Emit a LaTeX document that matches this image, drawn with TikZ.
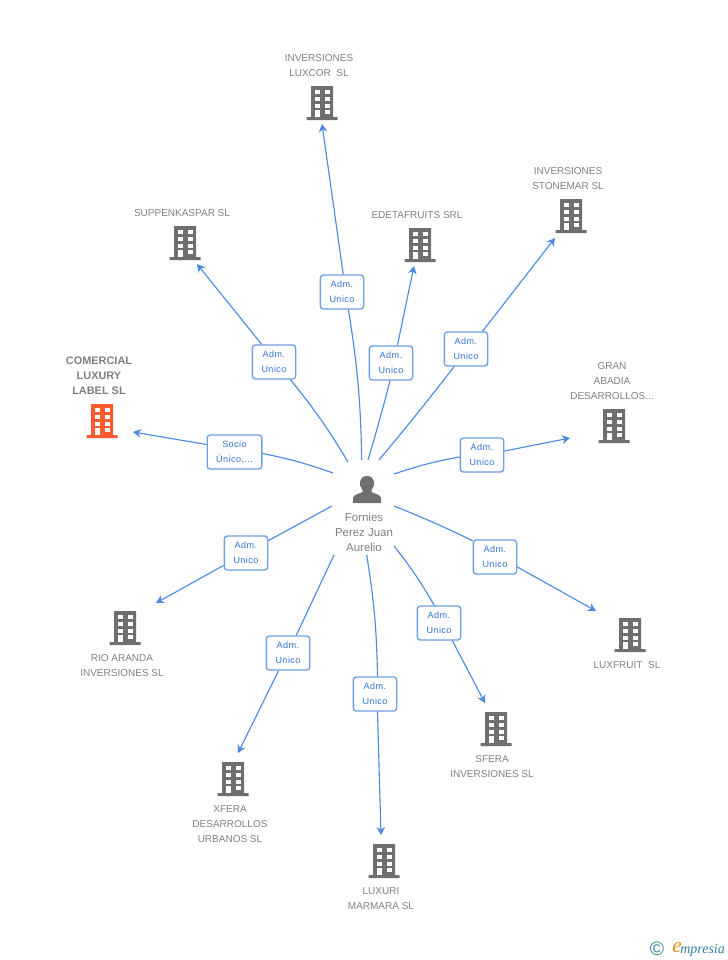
\documentclass[tikz,border=0pt]{standalone}
\usepackage{fontspec}
\setmainfont{Liberation Sans}
\newfontfamily\logofont{Liberation Serif}
\newfontfamily\relfont[LetterSpace=5]{Liberation Sans}
\usetikzlibrary{arrows.meta,calc}
\definecolor{linkblue}{HTML}{4A8AE0}
\definecolor{boxblue}{HTML}{6C9FE4}
\definecolor{txtblue}{HTML}{2F74D0}
\definecolor{txtgray}{HTML}{808080}
\definecolor{bldgray}{HTML}{6F6F6F}
\definecolor{bldred}{HTML}{FF5A30}
\definecolor{logoteal}{HTML}{2F7F9F}
\definecolor{logoorange}{HTML}{F08A1C}
\tikzset{
  relbox/.style={draw=boxblue,fill=white,rounded corners=2.2pt,line width=1pt,minimum height=25.5pt,inner sep=0pt,align=center,text=txtblue,font=\relfont\fontsize{6.8pt}{11.25pt}\selectfont},
  rel/.style={draw=linkblue,line width=0.85pt},
  reltip/.style={rel,-{Stealth[length=6pt,width=6.5pt]}},
  firmlabel/.style={align=center,text=txtgray,inner sep=0pt,yshift=-0.6pt,font=\fontsize{7.5pt}{11.25pt}\selectfont},
  pics/building/.style={code={
    \fill[#1] (-11,-17) rectangle (11,14) (-15.5,14) rectangle (15.5,17);
    \foreach \wx in {-7,3} {
      \foreach \wy in {-13.5,-6.2,0.5} {
        \fill[white] (\wx,\wy) rectangle ++(4.7,4.5);
      }
    }
    \fill[white] (-7,6.7) rectangle ++(4.7,7.3);
    \fill[white] (3,6.7) rectangle ++(4.7,4.5);
  }}
}
\begin{document}
\begin{tikzpicture}[x=0.75pt,y=-0.75pt]
\useasboundingbox (0,0) rectangle (728,960);
% firms
\foreach \n/\bx/\by/\lx/\ly/\txt in {
  luxcor/322/103/319/64.5/{INVERSIONES\\LUXCOR\ \ SL},
  suppen/185/243/182/212/{SUPPENKASPAR SL},
  edeta/420/245/417/214/{EDETAFRUITS SRL},
  stonemar/571/216/568/177.5/{INVERSIONES\\STONEMAR SL},
  gran/614/426/612/380/{GRAN\\ABADIA\\DESARROLLOS...},
  luxfruit/630/635/627/664/{LUXFRUIT\ \ SL},
  sfera/496/729/492/765.5/{SFERA\\INVERSIONES SL},
  luxuri/384/861/381/897.5/{LUXURI\\MARMARA SL},
  xfera/233/779/230/823/{XFERA\\DESARROLLOS\\URBANOS SL},
  rio/125/628/122/664.5/{RIO ARANDA\\INVERSIONES SL}} {
  \pic (bld\n) at (\bx,\by) {building=bldgray};
  \node[firmlabel] (lbl\n) at (\lx,\ly) {\txt};
}
\pic (bldcomercial) at (102,421) {building=bldred};
\node[firmlabel,font=\bfseries\fontsize{8.2pt}{11.25pt}\selectfont] (lblcomercial) at (99,375) {COMERCIAL\\LUXURY\\LABEL SL};
% person
\fill[bldgray] (353,503) -- (353,498) .. controls (354,494) and (359,494) .. (362.5,492) -- (362.5,490) .. controls (358,485) and (359,476) .. (367,476) .. controls (375,476) and (376,485) .. (371.5,490) -- (371.5,492) .. controls (375,494) and (380,494) .. (381,498) -- (381,503) -- cycle;
\node[firmlabel,yshift=0.6pt,font=\fontsize{8.6pt}{11.25pt}\selectfont] (person) at (364,532) {Fornies\\Perez Juan\\Aurelio};
% links: start, box, tip, width, bend, anchors on the box
\foreach \n/\sx/\sy/\cx/\cy/\tx/\ty/\w/\b/\ia/\oa/\txt in {
  luxcor/361.7/460/342/292/322/124/32.5/4/-70/86/{Adm.\\Unico},
  suppen/348/462/274/362/197/264/32.5/4/-47/125/{Adm.\\Unico},
  edeta/368/460/391/363/414/266/32.5/1/-93/70/{Adm.\\Unico},
  stonemar/379/460/466/349/555/238/32.5/1/-124/47/{Adm.\\Unico},
  gran/394/474/482/455/570/438/32.5/-4/185/10/{Adm.\\Unico},
  comercial/333/473/234.5/452/133/432/41/4/-3/165/{Socio\\Único,...},
  luxfruit/394/506/495/557/596/611/32.5/-2/144/-24/{Adm.\\Unico},
  sfera/394/546/439/623/485/703/32.5/-4/105/-53/{Adm.\\Unico},
  luxuri/366.7/555/375/694/381/835/32.5/-4/82/-82/{Adm.\\Unico},
  xfera/334/555/288/653/238/753/32.5/0/65/-118/{Adm.\\Unico},
  rio/332/506/246/553/156/603/32.5/0/29/209/{Adm.\\Unico}} {
  \coordinate (s\n) at (\sx,\sy);
  \coordinate (t\n) at (\tx,\ty);
  \node[relbox,minimum width=\w pt] (box\n) at (\cx,\cy) {\txt};
  \draw[rel] (s\n) to[bend right=\b] (box\n.\ia);
  \draw[reltip] (box\n.\oa) -- (t\n);
}
% logo
\node[inner sep=0pt,text=logoteal,font=\fontsize{14.5pt}{14.5pt}\selectfont] (logoc) at (657,949) {©};
\node[inner sep=0pt,text=logoorange,font=\logofont\itshape\fontsize{16pt}{16pt}\selectfont] (logoe) at (677,948) {e};
\node[inner sep=0pt,text=logoteal,anchor=west,font=\logofont\itshape\fontsize{10.5pt}{11pt}\selectfont] (logot) at (680,950) {mpresia};
\end{tikzpicture}
\end{document}
